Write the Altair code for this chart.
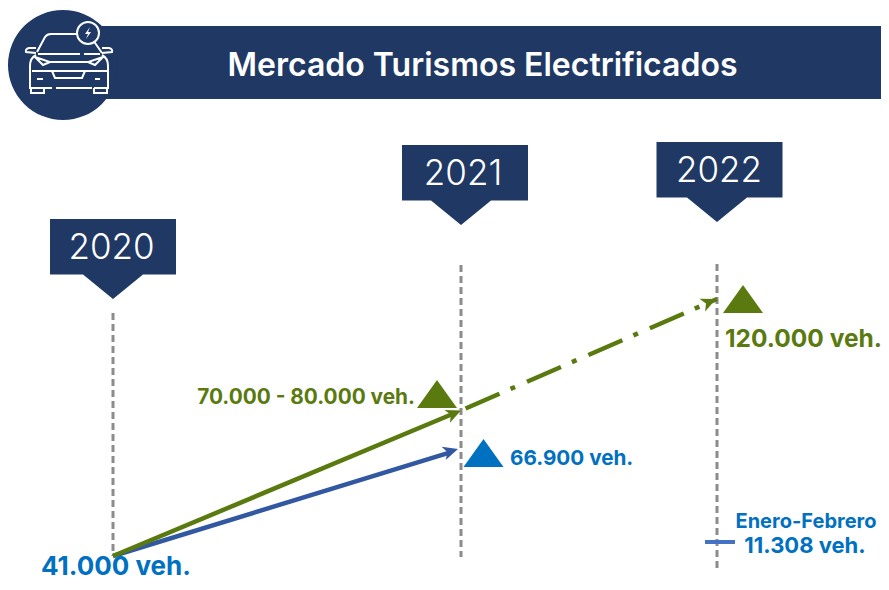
import re
import altair as alt
import pandas as pd

# ---- chart values ----
TITLE = "Mercado Turismos Electrificados"
YEARS = [2020, 2021, 2022]
YEAR_LABELS = ["2020", "2021", "2022"]
GREEN_YEARS = [2020, 2021]
GREEN_VALUES = [41000, 75000]
GREEN_FC_YEARS = [2021, 2022]
GREEN_FC_VALUES = [75000, 120000]
BLUE_YEARS = [2020, 2021]
BLUE_VALUES = [41000, 66900]
YTD_VALUE = 11308

NAVY = "#1f3864"
GREEN = "#5a7a10"
BLUE_TEXT = "#0070c0"
BLUE_LINE = "#3158a0"
GRAY = "#8c8c8c"
FONT = "Inter"
W, H = 873, 574

# the picture is not to scale: piecewise scales reproduce its positions
xs = alt.Scale(domain=YEARS, range=[105, 453, 709])
ys = alt.Scale(domain=[11308, 41000, 66900, 75000, 120000],
               range=[534, 548, 441, 402.5, 291], nice=False, zero=False)
X = lambda f="x": alt.X(f, type="quantitative", scale=xs, axis=None)
Y = lambda f="y": alt.Y(f, type="quantitative", scale=ys, axis=None)


def frame(years, values):
    return pd.DataFrame({"x": years, "y": values})


def symbol(path_px, unit):
    """Scale a path given in pixels to the -1..1 box of a Vega custom symbol."""
    return re.sub(r"-?\d+\.?\d*", lambda m: f"{float(m.group()) / unit:.4f}", path_px)


layers = []

# banner
layers.append(alt.Chart().mark_rect(color=NAVY).encode(
    x=alt.value(85), x2=alt.value(W), y=alt.value(18), y2=alt.value(91)))
layers.append(alt.Chart().mark_point(shape="circle", size=12100, filled=True, color=NAVY,
                                     opacity=1, strokeWidth=0).encode(
    x=alt.value(55), y=alt.value(57)))

# car icon (pixel path around its centre, stroked white)
car = (
    "M-32 -11 L-24 -26 Q-22 -29 -18 -29 L8 -29 "
    "M24 -23 L33 -10 "
    "M-31 -9 L11 -9 M15 -9 L31 -9 "
    "M-33 -8 Q-39 -5 -39 3 L-39 25 L-17 25 M-13 25 L23 25 M25 25 L39 25 L39 3 Q39 -5 33 -8 "
    "M-34 -6 L-19 -1 L-26 2 Z M34 -6 L19 -1 L26 2 Z "
    "M-19 -1 L19 -1 "
    "M-37 8 L39 8 "
    "M-17 8 L-14 15 L13 15 L16 8 "
    "M-32 16 L-26 16 M26 16 L31 16 "
    "M-38 25 L-38 30 L-25 30 L-25 25 M25 25 L25 30 L38 30 L38 25 "
    "M-33 -15 L-40 -15 Q-44 -14 -43 -11 L-33 -10 M33 -15 L40 -15 Q44 -14 43 -11 L33 -10 "
)
layers.append(alt.Chart().mark_point(shape=symbol(car, 50), size=10000, filled=False,
                                     stroke="white", strokeWidth=2, opacity=1).encode(
    x=alt.value(61), y=alt.value(55)))
layers.append(alt.Chart().mark_point(shape="circle", size=484, filled=True, fill=NAVY, stroke="white",
                                     strokeWidth=2, opacity=1).encode(
    x=alt.value(80), y=alt.value(25)))
bolt = "M2 -6 L-3 1 L0 1 L-2 6 L3 -1 L0 -1 Z"
layers.append(alt.Chart().mark_point(shape=symbol(bolt, 10), size=400, filled=True, fill="white",
                                     strokeWidth=0, opacity=1).encode(
    x=alt.value(80), y=alt.value(25)))

# title
layers.append(alt.Chart(pd.DataFrame({"t": [TITLE]})).mark_text(
    font=FONT, fontSize=32, fontWeight=600, color="white", align="center", baseline="middle").encode(
    x=alt.value(474.5), y=alt.value(58), text="t:N"))

# year gridlines
rule_ends = [(305, 548), (257, 549), (256, 560)]
for yr, (a, b) in zip(YEARS, rule_ends):
    layers.append(alt.Chart(pd.DataFrame({"x": [yr]})).mark_rule(
        color=GRAY, strokeWidth=3, strokeDash=[7, 4]).encode(
        x=X(), y=alt.value(a), y2=alt.value(b)))

# year callouts: the box sits slightly off the pointer in the two later years
tops = [211, 137, 134]
box_shift = [0, 4, 2.5]
text_shift = [-1.5, 2, 2]
for yr, lab, top, sh, tsh in zip(YEARS, YEAR_LABELS, tops, box_shift, text_shift):
    d = pd.DataFrame({"x": [yr], "t": [lab]})
    callout = (f"M{sh - 63} 0 L{sh + 63} 0 L{sh + 63} 55.5 L30 55.5 L0 80 L-30 55.5 L{sh - 63} 55.5 Z")
    layers.append(alt.Chart(d).mark_point(shape=symbol(callout, 100), size=40000, filled=True,
                                          fill=NAVY, strokeWidth=0, opacity=1).encode(
        x=X(), y=alt.value(top)))
    layers.append(alt.Chart(d).mark_text(font=FONT, fontSize=35, fontWeight=300, color="white",
                                         align="center", baseline="middle", dx=tsh).encode(
        x=X(), y=alt.value(top + 29), text="t:N"))

# arrows
layers.append(alt.Chart(frame(BLUE_YEARS, BLUE_VALUES)).mark_line(
    color=BLUE_LINE, strokeWidth=4.5, strokeDash=[352, 100]).encode(x=X(), y=Y()))
layers.append(alt.Chart(frame(GREEN_YEARS, GREEN_VALUES)).mark_line(
    color=GREEN, strokeWidth=4.5, strokeDash=[370, 100]).encode(x=X(), y=Y()))
layers.append(alt.Chart(frame(GREEN_FC_YEARS, GREEN_FC_VALUES)).mark_line(
    color=GREEN, strokeWidth=4.5, strokeDash=[37, 12, 5, 13], strokeDashOffset=62).encode(x=X(), y=Y()))

head = "M0 0 L7 15 L0 11 L-7 15 Z"
for yr, val, col, ang, dx in [(2021, 66900, BLUE_LINE, 73, -3), (2021, 75000, GREEN, 67, 0),
                              (2022, 120000, GREEN, 66, -1)]:
    layers.append(alt.Chart(frame([yr], [val])).mark_point(
        shape=symbol(head, 20), size=1600, filled=True, fill=col, strokeWidth=0, opacity=1,
        angle=ang, xOffset=dx).encode(x=X(), y=Y()))

# trend triangles
tri = "M0 0 L20 0 L0 -28 L-20 0 Z"
for yr, val, col, dx, dy in [(2021, 75000, GREEN, -24, -2.5), (2021, 66900, BLUE_TEXT, 22.5, 18),
                             (2022, 120000, GREEN, 26, 14)]:
    layers.append(alt.Chart(frame([yr], [val])).mark_point(
        shape=symbol(tri, 30), size=3600, filled=True, fill=col, strokeWidth=0, opacity=1,
        xOffset=dx, yOffset=dy).encode(x=X(), y=Y()))

# January-February tick
layers.append(alt.Chart(frame([2022], [YTD_VALUE])).mark_rule(color="#4472c4", strokeWidth=4).encode(
    x=alt.value(697), x2=alt.value(727), y=Y()))

# labels
labels = [
    (2021, 75000, "70.000 - 80.000 veh.", GREEN, 20.8, "right", -46, -12.5),
    (2021, 66900, "66.900 veh.", BLUE_TEXT, 20.7, "left", 49, 10),
    (2022, 120000, "120.000 veh.", GREEN, 24.5, "left", 8, 41),
    (2020, 41000, "41.000 veh.", BLUE_TEXT, 26, "center", 3, 11),
    (2022, 11308, "Enero-Febrero", BLUE_TEXT, 20, "center", 89, -20),
    (2022, 11308, "11.308 veh.", BLUE_TEXT, 22, "center", 88, 4),
]
for yr, val, txt, col, fs, al, dx, dy in labels:
    d = pd.DataFrame({"x": [yr], "y": [val], "t": [txt]})
    layers.append(alt.Chart(d).mark_text(font=FONT, fontSize=fs, fontWeight=700, color=col, align=al,
                                         baseline="middle", dx=dx, dy=dy).encode(
        x=X(), y=Y(), text="t:N"))

chart = alt.layer(*layers).properties(
    width=W, height=H, padding=0, autosize=alt.AutoSizeParams(type="none"),
).configure_view(stroke=None)
chart.save("out.html", embed_options={"renderer": "svg", "actions": False})
